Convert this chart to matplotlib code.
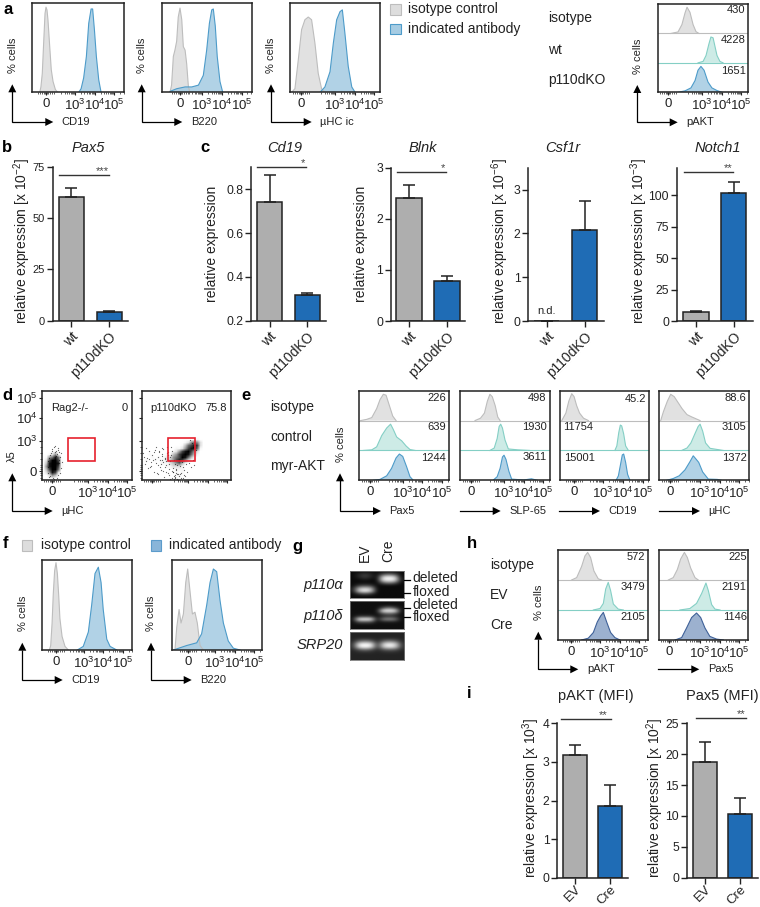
import numpy as np
import matplotlib
matplotlib.use('Agg')
import matplotlib.pyplot as plt
from matplotlib.patches import Rectangle, Polygon

plt.rcParams['font.family'] = ['Liberation Sans', 'DejaVu Sans']
plt.rcParams['mathtext.fontset'] = 'custom'
plt.rcParams['mathtext.rm'] = 'Liberation Sans'
plt.rcParams['mathtext.it'] = 'Liberation Sans:italic'
plt.rcParams['mathtext.bf'] = 'Liberation Sans:bold'
plt.rcParams['mathtext.default'] = 'rm'

W, H = 760, 907
DEC = 19.6
INK = '#222222'

# colours: (fill, edge)
GREY = ('#dddddd', '#bdbdbd')
BLUE = ('#a6cce3', '#4d9bc9')
TEAL = ('#c6e9e3', '#84cfc5')
NAVY = ('#8ea6c9', '#3f6198')
BAR_GREY = '#aeaeae'
BAR_BLUE = '#1f6cb5'

# bar values, top of the error bar
pax5_vals, pax5_tops = [60, 4], [64.7, 4.6]
cd19_vals, cd19_tops = [0.74, 0.317], [0.865, 0.327]
blnk_vals, blnk_tops = [2.41, 0.78], [2.66, 0.89]
csf1r_vals, csf1r_tops = [0, 2.07], [0, 2.75]
notch1_vals, notch1_tops = [7.5, 101.5], [8.3, 110.5]
pakt_vals, pakt_tops = [3.18, 1.87], [3.43, 2.4]
mfi_pax5_vals, mfi_pax5_tops = [18.7, 10.3], [22, 12.9]
wt_ko = ['wt', 'p110dKO']
ev_cre = ['EV', 'Cre']

# histograms, x in decades from the 0 tick, y in % of the row height
a1_iso_x = [-.32, -.26, -.19, -.12, -.05, 0, .05, .10, .19, .27, .36, .48, .60]
a1_iso_y = [0, 6, 21, 55, 88, 95, 92, 81, 51, 25, 12, 3, 0]
a1_pos_x = [1.67, 1.79, 1.92, 2.06, 2.18, 2.30, 2.38, 2.47, 2.57, 2.69, 2.81]
a1_pos_y = [0, 4, 16, 40, 77, 93, 93, 70, 40, 14, 0]
a2_iso_x = [-.51, -.43, -.34, -.26, -.17, -.09, 0, .09, .17, .26, .34, .43, .51]
a2_iso_y = [0, 8, 40, 47, 57, 84, 94, 81, 51, 47, 32, 6, 0]
a2_pos_x = [-.51, -.17, .26, .6, .94, 1.19, 1.36, 1.5, 1.62, 1.7, 1.8, 1.9, 2.04, 2.18]
a2_pos_y = [1, 4, 6, 6, 8, 19, 47, 77, 92, 93, 74, 40, 12, 0]
a3_iso_x = [-.48, -.31, -.14, .03, .2, .37, .54, .71, .88, 1.05, 1.22]
a3_iso_y = [0, 4, 36, 70, 81, 84, 81, 55, 21, 4, 0]
a3_pos_x = [.97, 1.22, 1.48, 1.65, 1.82, 1.99, 2.11, 2.24, 2.41, 2.59, 2.76]
a3_pos_y = [0, 6, 23, 55, 81, 90, 92, 66, 29, 6, 0]
a4_iso_x = [.15, .51, .71, .87, .97, 1.12, 1.28, 1.43, 1.58]
a4_iso_y = [0, 5, 30, 70, 89, 72, 30, 6, 0]
a4_wt_x = [1.53, 1.79, 1.94, 2.09, 2.19, 2.3, 2.4, 2.5, 2.65, 2.81]
a4_wt_y = [0, 5, 25, 65, 88, 85, 55, 25, 5, 0]
a4_ko_x = [.51, .87, 1.17, 1.38, 1.53, 1.68, 1.84, 2.04, 2.24, 2.5, 2.76]
a4_ko_y = [0, 5, 15, 40, 75, 88, 75, 35, 15, 6, 0]

e1_iso_x = [-.48, -.17, .09, .34, .51, .68, .82, .99, 1.16, 1.33]
e1_iso_y = [0, 4, 10, 40, 70, 88, 85, 50, 15, 0]
e1_ctl_x = [-.34, .09, .34, .6, .85, 1.05, 1.19, 1.36, 1.62, 1.84, 2.04, 2.3]
e1_ctl_y = [0, 2, 12, 50, 75, 88, 70, 45, 32, 15, 3, 0]
e1_akt_x = [.17, .51, .85, 1.1, 1.33, 1.5, 1.67, 1.87, 2.04, 2.21]
e1_akt_y = [0, 3, 15, 40, 75, 88, 80, 45, 12, 0]
e2_iso_x = [.22, .5, .7, .85, .98, 1.1, 1.25, 1.38, 1.5]
e2_iso_y = [0, 8, 25, 65, 88, 80, 50, 12, 0]
e2_ctl_x = [.98, 1.2, 1.35, 1.45, 1.53, 1.62, 1.75, 1.92, 2.4, 3.0]
e2_ctl_y = [0, 8, 40, 80, 88, 75, 35, 5, 2, 0]
e2_akt_x = [1.14, 1.35, 1.5, 1.62, 1.7, 1.8, 1.95, 2.09, 2.7, 3.1, 3.4]
e2_akt_y = [0, 12, 40, 78, 84, 70, 30, 4, 1, 5, 0]
e3_iso_x = [-.61, -.4, -.25, -.1, .02, .15, .3, .5, .75]
e3_iso_y = [0, 25, 65, 90, 80, 50, 25, 8, 0]
e3_ctl_x = [2.1, 2.2, 2.3, 2.38, 2.45, 2.55, 2.65, 2.79]
e3_ctl_y = [0, 15, 60, 85, 82, 55, 15, 0]
e3_akt_x = [2.16, 2.28, 2.38, 2.48, 2.55, 2.65, 2.75, 2.87]
e3_akt_y = [0, 15, 50, 85, 88, 60, 20, 0]
e4_iso_x = [-.49, -.35, -.15, .02, .2, .4, .6, .85, 1.1, 1.52]
e4_iso_y = [0, 30, 65, 88, 80, 60, 40, 20, 12, 0]
e4_ctl_x = [.58, .85, 1.05, 1.25, 1.42, 1.52, 1.65, 1.8, 2.03, 2.7]
e4_ctl_y = [0, 8, 25, 55, 80, 88, 65, 25, 7, 0]
e4_akt_x = [-.18, .15, .45, .75, 1.0, 1.17, 1.3, 1.45, 1.65, 1.94, 2.4, 2.6]
e4_akt_y = [0, 6, 15, 35, 62, 82, 72, 60, 28, 4, 3, 0]

f1_iso_x = [-.34, -.27, -.2, -.14, -.07, 0, .07, .14, .2, .31, .46, .63]
f1_iso_y = [0, 5, 30, 62, 88, 97, 85, 60, 35, 15, 4, 0]
f1_pos_x = [1.09, 1.39, 1.65, 1.82, 1.99, 2.16, 2.3, 2.41, 2.59, 2.76, 3.1]
f1_pos_y = [0, 4, 20, 50, 85, 92, 75, 45, 12, 4, 0]
f2_iso_x = [-.65, -.56, -.44, -.34, -.22, -.1, 0, .12, .24, .37, .49, .63, .8]
f2_iso_y = [0, 25, 45, 30, 40, 75, 90, 65, 40, 42, 30, 5, 0]
f2_pos_x = [-.73, -.05, .46, .71, .97, 1.14, 1.31, 1.48, 1.65, 1.82, 2.07, 2.33, 2.67]
f2_pos_y = [0, 5, 8, 18, 50, 75, 90, 87, 55, 30, 10, 2, 0]

h1_iso_x = [.03, .29, .54, .71, .85, 1, 1.17, 1.39, 1.56]
h1_iso_y = [0, 8, 45, 80, 92, 75, 30, 4, 0]
h1_ev_x = [1.14, 1.48, 1.65, 1.77, 1.9, 2.02, 2.16, 2.41, 2.67]
h1_ev_y = [0, 5, 22, 70, 92, 65, 20, 3, 0]
h1_cre_x = [.54, .88, 1.14, 1.34, 1.51, 1.65, 1.82, 2.02, 2.24, 2.5]
h1_cre_y = [0, 6, 25, 60, 80, 92, 60, 25, 8, 0]
h2_iso_x = [-.05, .2, .41, .58, .77, .92, 1.09, 1.31, 1.48]
h2_iso_y = [0, 8, 35, 70, 92, 75, 40, 8, 0]
h2_ev_x = [.54, 1.05, 1.39, 1.65, 1.87, 1.99, 2.16, 2.33, 2.59]
h2_ev_y = [0, 5, 22, 55, 90, 65, 18, 3, 0]
h2_cre_x = [.29, .63, .88, 1.14, 1.39, 1.6, 1.82, 2.07, 2.41, 2.76]
h2_cre_y = [0, 8, 40, 75, 90, 75, 40, 12, 3, 0]

# flow plot density, one digit per 3 px cell (rows from row 13 down)
rag2_rows = [
    '0', '0', '0', '0', '0', '0',
    '000001',
    '0001210',
    '0023520',
    '0256860',
    '0379972',
    '0489982',
    '0589972',
    '0479960',
    '0358730',
    '013541',
    '00120',
]
ko_rows = [
    '000000000000000000000000000000',
    '000000000000000000010000000000',
    '000000000000000001001000000000',
    '000000000000001012210100000000',
    '000000000000012356531000000000',
    '000000000001124678731010000000',
    '010100010102235788620100000000',
    '101010111123578975310010000000',
    '012101112245789864200100000000',
    '101212123356798642101000000000',
    '020121223457875310010000000000',
    '101011222345642101001000000000',
    '010101112233321100100000000000',
    '000100101112221101010000000000',
    '001001010112121010100000000000',
    '000010001101211001000000000000',
    '000000010010110100000000000000',
]
# single events around the dense part, same x/y scale as the panel axes
rag2_dots_x = [-.18, -.12, -.2, -.05, .02, .1, .18, .3, .36, .42, .28, .35, -.15, .05, .45, .5, .22, .31,
               -.1, .4, .12, .25, .48, .33, -.2, .0, .15, .38, .2, -.08]
rag2_dots_y = [.2, .65, -.1, .9, 1.1, 1.25, 1.3, 1.15, .95, .7, .85, .4, -.3, -.38, .15, .45, 1.0, -.2,
               .8, -.1, -.42, -.35, .9, 1.05, .5, 1.02, .95, .55, .78, -.25]
ko_dots_x = [-.42, -.36, -.3, -.25, -.2, -.12, -.05, .03, .1, .18, .24, .3, .36, .42, .48, .55, .6, .66,
             .72, .78, .84, .9, .95, 1.02, 1.08, 1.14, 1.2, 1.28, -.38, -.28, -.15, -.02, .12, .2, .32,
             .4, .5, .58, .68, .75, .82, .88, .95, 1.0, 1.1, 1.18, 1.25, 1.35, 1.42, 1.5, 1.58, 1.65,
             1.72, 1.8, 1.9, 2.0, 2.1, 2.18, .3, .45, .6, .75, .9, 1.05, 1.2, 1.35, 1.5, 1.65, .15,
             .35, .55, .8, 1.0, 1.15, 1.3, 1.45, 1.6, .7, .85, 1.12, 1.25, 1.38, 1.05, 1.18, 1.3,
             .95, 1.1, 1.22, 2.05, 2.2, 1.95, 2.12, 2.28, .05, -.1, .25, .5, .65, 1.55, 1.75]
ko_dots_y = [.9, .35, 1.15, .65, .15, 1.0, .45, .8, -.05, .6, 1.2, .3, .95, .55, .05, .75, 1.1, .2,
             .5, .9, -.1, .35, .7, 1.0, .15, .55, -.2, .3, .7, .5, .6, .25, .95, .4, .7, .2, .85, .45,
             .6, .3, .95, .1, .5, .8, -.05, .35, .05, -.15, .25, -.1, .2, .05, -.25, -.05, .4, .2, .55,
             .3, -.15, .35, .0, -.05, -.2, -.35, -.3, -.45, -.35, -.2, 1.05, 1.0, 1.15, 1.2, 1.22,
             -.25, -.4, -.15, -.38, .65, .8, -.42, -.1, -.28, .02, -.38, -.15, -.4, -.05, .1, 1.45,
             1.35, 1.6, 1.25, 1.05, .55, .2, -.1, .55, -.3, .45, .35]

# gel lanes, brightness per cell
gel_alpha = [
    [.04, .04, .04, .04, .04, .04, .04, .04, .04],
    [.04, .15, .25, .15, .04, .3, .4, .3, .04],
    [.04, .15, .25, .15, .04, .85, .95, .85, .04],
    [.04, .05, .1, .05, .04, .95, 1, .95, .1],
    [.04, .04, .04, .04, .04, .4, .55, .4, .04],
    [.04, .2, .25, .2, .04, .04, .04, .04, .04],
    [.1, .7, .8, .7, .04, .04, .04, .04, .04],
    [.1, .85, 1, .85, .04, .04, .04, .04, .04],
    [.04, .2, .3, .2, .04, .04, .04, .04, .04],
    [.04, .04, .04, .04, .04, .04, .04, .04, .04],
]
gel_delta = [
    [.06, .06, .06, .06, .06, .06, .06, .06, .06],
    [.06, .06, .06, .06, .06, .06, .06, .06, .06],
    [.06, .06, .06, .06, .06, .3, .5, .3, .06],
    [.06, .06, .06, .06, .06, 1, 1, 1, .06],
    [.06, .06, .06, .06, .06, .3, .4, .3, .06],
    [.06, .2, .2, .2, .06, .15, .2, .15, .06],
    [.06, 1, 1, 1, .06, .5, .6, .5, .06],
    [.06, .3, .3, .3, .06, .1, .1, .1, .06],
    [.06, .06, .06, .06, .06, .06, .06, .06, .06],
    [.06, .06, .06, .06, .06, .06, .06, .06, .06],
]
gel_srp = [
    [.14, .14, .14, .14, .14, .14, .14, .14, .14],
    [.14, .14, .14, .14, .14, .14, .14, .14, .14],
    [.14, .16, .16, .16, .14, .16, .16, .16, .14],
    [.16, .4, .5, .4, .16, .4, .5, .4, .16],
    [.2, .95, 1, .95, .2, .85, 1, .85, .2],
    [.2, .9, 1, .9, .2, .8, .95, .8, .2],
    [.16, .3, .4, .3, .16, .3, .35, .3, .16],
    [.14, .16, .16, .16, .14, .16, .16, .16, .14],
    [.14, .14, .14, .14, .14, .14, .14, .14, .14],
    [.14, .14, .14, .14, .14, .14, .14, .14, .14],
]

fig = plt.figure(figsize=(W / 100, H / 100), dpi=100)


def px_axes(x0, y0, x1, y1):
    return fig.add_axes([x0 / W, 1 - y1 / H, (x1 - x0) / W, (y1 - y0) / H])


ov = fig.add_axes([0, 0, 1, 1], zorder=10)
ov.set_xlim(0, W)
ov.set_ylim(H, 0)
ov.axis('off')


def txt(x, y, s, size=8, ha='left', va='center', **kw):
    kw.setdefault('color', INK)
    ov.text(x, y, s, fontsize=size, ha=ha, va=va, **kw)


def axis_arrow(x, ytip, ybot, xtip, label, ylabel='% cells'):
    ov.plot([x, x, xtip - 7], [ytip + 7, ybot, ybot], color='k', lw=0.9,
            solid_joinstyle='miter', solid_capstyle='butt')
    ov.add_patch(Polygon([[x - 4, ytip + 8], [x + 4, ytip + 8], [x, ytip]], fc='k', ec='none'))
    ov.add_patch(Polygon([[xtip - 8, ybot - 4], [xtip - 8, ybot + 4], [xtip, ybot]], fc='k', ec='none'))
    txt(xtip + 8.5, ybot, label)
    if ylabel:
        txt(x + 0.5, ytip - 29, ylabel, ha='center', rotation=90)


def x_arrow(x0, xtip, y, label):
    ov.plot([x0, xtip - 7], [y, y], color='k', lw=0.9)
    ov.add_patch(Polygon([[xtip - 8, y - 4], [xtip - 8, y + 4], [xtip, y]], fc='k', ec='none'))
    txt(xtip + 8.5, y, label)


def log_ticks(ax, zero, t3, x0, x1, labels=True):
    u3 = (t3 - zero) / DEC
    minors = [-.4, -.3, -.2, -.1, -.05, .05, .1, .2, .3, .4]
    for d in [-1, 0, 1, 2]:
        minors += [u3 + d + np.log10(k) for k in range(2, 10)]
    ax.set_xticks(minors, minor=True)
    ax.set_xticks([0, u3, u3 + 1, u3 + 2])
    if labels:
        ax.set_xticklabels(['0', '10$^3$', '10$^4$', '10$^5$'], fontsize=9.5, color=INK)
    else:
        ax.set_xticklabels([])
    ax.tick_params(axis='x', which='major', length=2.2, width=0.8, pad=2, color=INK)
    ax.tick_params(axis='x', which='minor', length=1.3, width=0.5, color=INK)
    ax.set_xlim((x0 - zero) / DEC, (x1 - zero) / DEC)


def hist_panel(box, zero, t3, curves):
    # curves: (x, y, colours, row), row 0 is the bottom one
    x0, y0, x1, y1 = box
    ax = px_axes(*box)
    rows = max(c[3] for c in curves) + 1
    for x, y, col, row in curves:
        ya = np.array(y) + row * 100
        ax.fill_between(x, row * 100, ya, facecolor=col[0], edgecolor='none', alpha=0.88)
        ax.plot(x, ya, color=col[1], lw=0.8)
        if row > 0:
            ax.axhline(row * 100, color=col[1], lw=0.8)
    ax.set_ylim(0, rows * 100)
    ax.set_yticks([])
    log_ticks(ax, zero, t3, x0, x1)
    for s in ax.spines.values():
        s.set_linewidth(1.1)
        s.set_color(INK)
    return ax


def bar_panel(xa, xb, ytop, ybot, c1, sp, w, vals, tops, ylim, yticks, names, ylabels=None,
              name_size=10, name_pad=2, tick_size=8.7):
    ax = px_axes(xa, ytop, xb, ybot)
    pos = [0, 1]
    ax.bar(pos, vals, width=w / sp, color=[BAR_GREY, BAR_BLUE], edgecolor=INK, linewidth=1.1,
           bottom=0)
    lo = [0, 0]
    hi = [t - v for t, v in zip(tops, vals)]
    ax.errorbar(pos, vals, yerr=[lo, hi], fmt='none', ecolor=INK, elinewidth=1.1, capsize=4.3,
                capthick=1.1)
    ax.set_xlim((xa - c1) / sp, (xb - c1) / sp)
    ax.set_ylim(*ylim)
    ax.set_yticks(yticks)
    if ylabels:
        ax.set_yticklabels(ylabels)
    ax.set_xticks(pos)
    ax.set_xticklabels(names, rotation=45, ha='right', rotation_mode='anchor', fontsize=name_size,
                       color=INK)
    ax.tick_params(axis='x', length=4, width=1, pad=name_pad, color=INK)
    ax.tick_params(axis='y', length=4, width=1, pad=1.5, labelsize=tick_size, color=INK, labelcolor=INK)
    for s in ['top', 'right']:
        ax.spines[s].set_visible(False)
    for s in ['left', 'bottom']:
        ax.spines[s].set_linewidth(1.1)
        ax.spines[s].set_color(INK)
    return ax


def sig(x0, x1, y, stars, xs, ys):
    ov.plot([x0, x1], [y, y], color='#333333', lw=1.0)
    txt(xs, ys + 1.5, stars, size=8, ha='center', va='center', color='#444444')


def rel_label(x, y, exp=None):
    s = 'relative expression'
    if exp:
        s += ' [x 10$^{%s}$]' % exp
    txt(x, y, s, size=10, ha='center', va='center', rotation=90)


# ---- a
hist_panel((32, 2.7, 124, 92.3), 46, 75, [(a1_iso_x, a1_iso_y, GREY, 0), (a1_pos_x, a1_pos_y, BLUE, 0)])
hist_panel((161.7, 2.7, 251.7, 92.3), 180, 202.3, [(a2_iso_x, a2_iso_y, GREY, 0), (a2_pos_x, a2_pos_y, BLUE, 0)])
hist_panel((290, 2.7, 380, 92.3), 301, 335, [(a3_iso_x, a3_iso_y, GREY, 0), (a3_pos_x, a3_pos_y, BLUE, 0)])
hist_panel((658.3, 4, 748, 92.3), 668, 702, [(a4_iso_x, a4_iso_y, GREY, 2), (a4_wt_x, a4_wt_y, TEAL, 1), (a4_ko_x, a4_ko_y, BLUE, 0)])
axis_arrow(12.3, 84.3, 122, 53.3, 'CD19')
axis_arrow(141.7, 84.3, 122, 182.3, 'B220')
axis_arrow(271, 84.3, 122, 311.7, 'µHC ic')
axis_arrow(637.3, 85, 122.3, 677.7, 'pAKT')
for y, c, s in [(9, GREY, 'isotype control'), (28.7, BLUE, 'indicated antibody')]:
    ov.add_patch(Rectangle((390, y - 5), 10.5, 10.5, fc=c[0], ec=c[1], lw=0.8))
    txt(408.3, y, s, size=10)
for y, s in [(18, 'isotype'), (50, 'wt'), (80, 'p110dKO')]:
    txt(548.3, y, s, size=10)
for y, s in [(10, '430'), (40, '4228'), (71, '1651')]:
    txt(745.7, y, s, ha='right')

# ---- b, c
bar_panel(52.7, 128, 166.7, 320.7, 71.3, 38, 24.5, pax5_vals, pax5_tops, (0, 75), [0, 25, 50, 75], wt_ko, tick_size=8)
bar_panel(250.7, 326, 167.3, 320.7, 269.5, 37.8, 25.5, cd19_vals, cd19_tops, (0.2, 0.9), [0.2, 0.4, 0.6, 0.8], wt_ko, ['0.2', '0.4', '0.6', '0.8'])
bar_panel(390.7, 465, 167.7, 321, 409, 37.8, 25.5, blnk_vals, blnk_tops, (0, 3), [0, 1, 2, 3], wt_ko)
bar_panel(528.3, 604, 167.7, 321, 546.7, 38, 25.5, csf1r_vals, csf1r_tops, (0, 3.5), [0, 1, 2, 3], wt_ko)
bar_panel(676.7, 752.7, 167.7, 321, 696, 37.5, 25.5, notch1_vals, notch1_tops, (0, 121.7), [0, 25, 50, 75, 100], wt_ko)
for x, s in [(88.3, 'Pax5'), (285, 'Cd19'), (422.7, 'Blnk'), (562.3, 'Csf1r'), (717.3, 'Notch1')]:
    txt(x, 148.3, s, size=10.5, ha='center', style='italic')
rel_label(22.5, 241, '-2')
rel_label(211.7, 244)
rel_label(360.7, 244)
rel_label(500, 241, '-6')
rel_label(639.3, 241, '-3')
sig(59, 109, 175, '***', 102, 170)
sig(256.7, 306, 166.7, '*', 303, 162)
sig(396.7, 446, 171.7, '*', 443, 167)
sig(684, 733.3, 171.7, '**', 727.7, 167)
txt(546.7, 311.5, 'n.d.', ha='center')

# ---- d
for box, zero, rows, dx, dy, lab in [((41.7, 390.7, 131.7, 480.3), 51.7, rag2_rows, rag2_dots_x, rag2_dots_y, True),
                                     ((141.7, 390.7, 231, 480.3), 151.7, ko_rows, ko_dots_x, ko_dots_y, False)]:
    x0, y0, x1, y1 = box
    ax = px_axes(*box)
    grid = np.zeros((30, 30))
    for i, r in enumerate(rows):
        grid[13 + i, :len(r)] = [int(c) for c in r]
    xl = ((x0 - zero) / DEC, (x1 - zero) / DEC)
    yl = ((471 - y1) / DEC, (471 - y0) / DEC)
    ax.imshow(grid, extent=[xl[0], xl[1], yl[0], yl[1]], origin='upper', cmap='Greys', vmin=1.5, vmax=8.5,
              aspect='auto', interpolation='bilinear')
    ax.scatter(dx, dy, s=0.8, color='k', linewidths=0, alpha=0.6)
    ax.add_patch(Rectangle((0.85, 0.53), 1.38, 1.17, fc='none', ec='#e6212e', lw=1.2))
    log_ticks(ax, zero, zero + 36.3, x0, x1, labels=lab)
    ax.set_xlim(*xl)
    ax.set_ylim(*yl)
    ax.set_yticks([-.35, -.2, -.1, .1, .2, .3, .6, .9, 1.2], minor=True)
    ax.set_yticks([0, 1.55, 2.7, 3.72])
    if lab:
        ax.set_yticklabels(['0', '10$^3$', '10$^4$', '10$^5$'], fontsize=9.5, color=INK)
    else:
        ax.set_yticklabels([])
    ax.tick_params(axis='y', which='major', length=2.2, width=0.8, pad=1, color=INK)
    ax.tick_params(axis='y', which='minor', length=1.3, width=0.5, color=INK)
    for s in ax.spines.values():
        s.set_linewidth(1.1)
        s.set_color(INK)
txt(50.7, 408.3, 'Rag2-/-')
txt(127.7, 408.3, '0', ha='right')
txt(150, 408.3, 'p110dKO')
txt(226.7, 408.3, '75.8', ha='right')
axis_arrow(12.3, 473.3, 511, 52.7, 'µHC', ylabel=None)
txt(12, 455.7, 'λ5', ha='center', rotation=90)

# ---- e
hist_panel((359.3, 390.7, 449.3, 480.3), 370, 402.7, [(e1_iso_x, e1_iso_y, GREY, 2), (e1_ctl_x, e1_ctl_y, TEAL, 1), (e1_akt_x, e1_akt_y, BLUE, 0)])
hist_panel((460, 390.7, 550, 480.3), 470.7, 504, [(e2_iso_x, e2_iso_y, GREY, 2), (e2_ctl_x, e2_ctl_y, TEAL, 1), (e2_akt_x, e2_akt_y, BLUE, 0)])
hist_panel((560, 390.7, 649.3, 480.3), 573.7, 603.3, [(e3_iso_x, e3_iso_y, GREY, 2), (e3_ctl_x, e3_ctl_y, TEAL, 1), (e3_akt_x, e3_akt_y, BLUE, 0)])
hist_panel((659, 390.7, 749, 480.3), 670.3, 700, [(e4_iso_x, e4_iso_y, GREY, 2), (e4_ctl_x, e4_ctl_y, TEAL, 1), (e4_akt_x, e4_akt_y, BLUE, 0)])
axis_arrow(340, 473.3, 511, 381, 'Pax5')
x_arrow(460, 500.7, 511, 'SLP-65')
x_arrow(559, 600, 511, 'CD19')
x_arrow(659, 700, 511, 'µHC')
for y, s in [(406.7, 'isotype'), (436.7, 'control'), (465.7, 'myr-AKT')]:
    txt(270, y, s, size=10)
for y, s in [(397.7, '226'), (427, '639'), (457.7, '1244')]:
    txt(446, y, s, ha='right')
for y, s in [(397.7, '498'), (427, '1930'), (457, '3611')]:
    txt(546.7, y, s, ha='right')
txt(646.7, 398.5, '45.2', ha='right')
txt(562.7, 427, '11754')
txt(563.7, 457.7, '15001')
for y, s in [(397.7, '88.6'), (427, '3105'), (457.7, '1372')]:
    txt(746.7, y, s, ha='right')

# ---- f
hist_panel((42, 560, 132.3, 650), 56, 83.7, [(f1_iso_x, f1_iso_y, GREY, 0), (f1_pos_x, f1_pos_y, BLUE, 0)])
hist_panel((171.7, 560, 261.7, 650), 187.7, 215, [(f2_iso_x, f2_iso_y, GREY, 0), (f2_pos_x, f2_pos_y, BLUE, 0)])
axis_arrow(22.3, 642.7, 680, 62.7, 'CD19')
axis_arrow(151, 642.7, 680, 191.7, 'B220')
ov.add_patch(Rectangle((21.7, 540), 10.5, 10.5, fc=GREY[0], ec=GREY[1], lw=0.8))
txt(40.7, 545.3, 'isotype control', size=10)
ov.add_patch(Rectangle((150.7, 540), 10.5, 10.5, fc='#89b5d9', ec='#5b9bcb', lw=0.8))
txt(169, 545.3, 'indicated antibody', size=10)

# ---- g
for gel, box in [(gel_alpha, (350, 570.7, 404, 598.3)), (gel_delta, (350, 601, 404, 629)), (gel_srp, (349.5, 631.7, 404, 660))]:
    ax = px_axes(*box)
    ax.imshow(gel, cmap='gray', vmin=0, vmax=1, aspect='auto', interpolation='bicubic')
    ax.set_xticks([])
    ax.set_yticks([])
    for s in ax.spines.values():
        s.set_linewidth(0.6)
        s.set_color('#777777')
txt(365, 562.3, 'EV', size=10, ha='center', va='bottom', rotation=90)
txt(388.3, 562.3, 'Cre', size=10, ha='center', va='bottom', rotation=90)
txt(343, 585, 'p110α', size=10.5, ha='right', style='italic')
txt(343, 615.7, 'p110δ', size=10.5, ha='right', style='italic')
txt(343, 645, 'SRP20', size=10.5, ha='right', style='italic')
for yt, yl, s in [(580, 578.3, 'deleted'), (593.3, 591.7, 'floxed'), (608.3, 605, 'deleted'), (617.3, 617.3, 'floxed')]:
    ov.plot([404, 409.5], [yt, yt], color='k', lw=0.9)
    txt(412.7, yl, s, size=10)

# ---- h
hist_panel((558.3, 550, 648.3, 640), 571, 600, [(h1_iso_x, h1_iso_y, GREY, 2), (h1_ev_x, h1_ev_y, TEAL, 1), (h1_cre_x, h1_cre_y, NAVY, 0)])
hist_panel((659, 550, 748.3, 640), 669.3, 700, [(h2_iso_x, h2_iso_y, GREY, 2), (h2_ev_x, h2_ev_y, TEAL, 1), (h2_cre_x, h2_cre_y, NAVY, 0)])
axis_arrow(538.3, 631.7, 669.3, 578.3, 'pAKT')
x_arrow(658.3, 699.3, 669.3, 'Pax5')
for y, s in [(565, 'isotype'), (595, 'EV'), (625, 'Cre')]:
    txt(490, y, s, size=10)
for y, s in [(557.3, '572'), (587.3, '3479'), (616.7, '2105')]:
    txt(645, y, s, ha='right')
for y, s in [(557.3, '225'), (587.3, '2191'), (616.7, '1146')]:
    txt(746.7, y, s, ha='right')

# ---- i
bar_panel(557.3, 628.3, 723.3, 877.7, 575.3, 35.1, 24, pakt_vals, pakt_tops, (0, 4), [0, 1, 2, 3, 4], ev_cre, name_size=9.5, name_pad=0)
bar_panel(686.7, 758.3, 723.3, 877.7, 705, 35, 23.7, mfi_pax5_vals, mfi_pax5_tops, (0, 25), [0, 5, 10, 15, 20, 25], ev_cre, name_size=9.5, name_pad=0)
txt(595.7, 695.7, 'pAKT (MFI)', size=10.5, ha='center')
txt(722.3, 695.7, 'Pax5 (MFI)', size=10.5, ha='center')
rel_label(530.7, 797.7, '3')
rel_label(655, 797.7, '2')
sig(561, 610.7, 719.3, '**', 603.3, 714)
sig(696, 746, 717.7, '**', 741, 712.5)

# panel letters
for x, y, s in [(3, 9, 'a'), (2, 148, 'b'), (200, 148, 'c'), (2, 396, 'd'), (241, 396, 'e'), (3, 544, 'f'),
                (292, 546, 'g'), (467, 544, 'h'), (467, 694, 'i')]:
    txt(x, y, s, size=12, fontweight='bold', color='k')

fig.savefig('out.png', dpi=100)
